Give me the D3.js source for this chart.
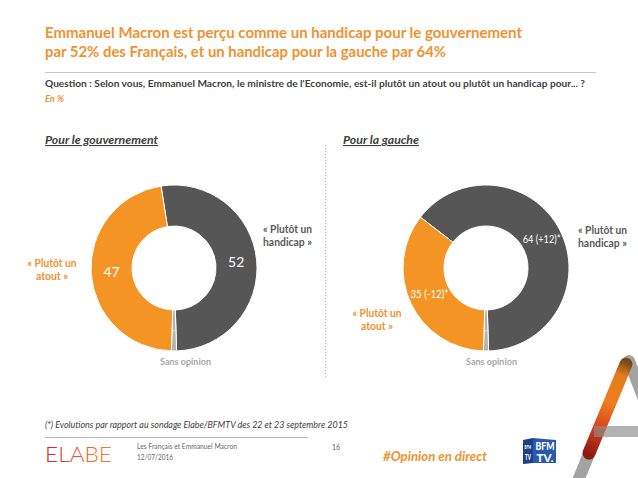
<!DOCTYPE html>
<html>
<head>
<meta charset="utf-8">
<script src="https://cdn.jsdelivr.net/npm/d3@7"></script>
<style>
  body { margin: 0; background: #fff; }
  svg { display: block; font-family: Lato, 'Open Sans', sans-serif; }
</style>
</head>
<body>
<div id="app"></div>
<script>
// data
const categories = ['« Plutôt un handicap »', 'Sans opinion', '« Plutôt un atout »'];
const gouvernement = [52, 1, 47];
const gauche = [64, 1, 35];
const evolGouvernement = ['', '', ''];
const evolGauche = ['(+12)*', '', '(-12)*'];
const panelTitles = ['Pour le gouvernement', 'Pour la gauche'];
const colors = ['#565656', '#b3b3b3', '#f39424'];

const width = 638, height = 478;
const orange = '#ef9230';
const dark = '#404040';

const svg = d3.select('#app').append('svg')
  .attr('width', width).attr('height', height);

// squeeze text to a given width (source font is narrow Calibri)
const fit = (sel, w) => sel.attr('textLength', w).attr('lengthAdjust', 'spacingAndGlyphs');

const label = (x, y, str, size, fill, opts = {}) => {
  const t = svg.append('text')
    .attr('x', x).attr('y', y)
    .attr('font-size', size)
    .attr('fill', fill)
    .attr('font-weight', opts.weight || 400)
    .attr('font-style', opts.italic ? 'italic' : 'normal')
    .attr('text-anchor', opts.anchor || 'start')
    .text(str);
  if (opts.w) fit(t, opts.w);
  return t;
};

// header
label(45, 38, 'Emmanuel Macron est perçu comme un handicap pour le gouvernement', 15.5, orange, { weight: 700, w: 477 });
label(45, 57, 'par 52% des Français, et un handicap pour la gauche par 64%', 15.5, orange, { weight: 700, w: 401 });
svg.append('line')
  .attr('x1', 45).attr('x2', 596).attr('y1', 72.5).attr('y2', 72.5)
  .attr('stroke', '#c6c6c6').attr('stroke-width', 1.2);
label(45, 87, "Question : Selon vous, Emmanuel Macron, le ministre de l'Economie, est-il plutôt un atout ou plutôt un handicap pour... ?", 9.5, dark, { weight: 700, w: 540 });
label(45, 102, 'En %', 10, orange, { italic: true, weight: 700, w: 19 });

// panel titles + separator
const panelX = [45, 343];
const panelW = [113, 76];
panelTitles.forEach((p, i) => {
  label(panelX[i], 144, p, 11, dark, { weight: 700, italic: true, w: panelW[i] })
    .attr('text-decoration', 'underline');
});
svg.append('line')
  .attr('x1', 325.5).attr('x2', 325.5).attr('y1', 145).attr('y2', 377)
  .attr('stroke', '#bdbdbd').attr('stroke-dasharray', '1,2');

// donuts
const arc = d3.arc().innerRadius(42).outerRadius(83);
const pieFor = (vals) => {
  const total = d3.sum(vals);
  // rotate so that the "sans opinion" slice sits at the bottom
  const start = Math.PI - 2 * Math.PI * (vals[0] + vals[1] / 2) / total;
  return d3.pie().sort(null).value(d => d)
    .startAngle(start).endAngle(start + 2 * Math.PI)(vals);
};

const donuts = [
  { vals: gouvernement, evol: evolGouvernement, cx: 174, cy: 268, big: true },
  { vals: gauche, evol: evolGauche, cx: 486, cy: 268, big: false }
];

donuts.forEach(d => {
  const g = svg.append('g').attr('transform', `translate(${d.cx},${d.cy})`);
  const arcs = pieFor(d.vals);
  g.selectAll('path')
    .data(arcs)
    .enter()
    .append('path')
    .attr('d', arc)
    .attr('fill', (a, i) => colors[i])
    .attr('stroke', '#fff')
    .attr('stroke-width', 1);

  g.selectAll('text.val')
    .data(arcs)
    .enter()
    .append('text')
    .attr('class', 'val')
    .attr('transform', a => {
      const c = arc.centroid(a);
      return a.index === 1 ? `translate(${c[0]},${c[1]}) rotate(-90)` : `translate(${c[0]},${c[1]})`;
    })
    .attr('text-anchor', 'middle')
    .attr('dy', '0.35em')
    .attr('fill', '#fff')
    .attr('font-size', a => a.index === 1 ? 5 : (d.big ? 14 : 11))
    .text((a, i) => d.evol[i] ? `${a.data} ${d.evol[i]}` : a.data)
    .each(function (a, i) {
      if (d.evol[i]) fit(d3.select(this), 38);
    });
});

// outside labels
const grayLbl = '#595959';
// gouvernement
label(263, 233, '« Plutôt un', 10.5, grayLbl, { weight: 700, w: 49 });
label(263, 246, 'handicap »', 10.5, grayLbl, { weight: 700, w: 49 });
label(52, 267, '« Plutôt un', 10.5, orange, { weight: 700, anchor: 'middle', w: 49 });
label(52, 280, 'atout »', 10.5, orange, { weight: 700, anchor: 'middle', w: 32 });
label(185.5, 365, categories[1], 10, '#a8a8a8', { weight: 700, anchor: 'middle', w: 51 });
// gauche
label(578, 234, '« Plutôt un', 10.5, grayLbl, { weight: 700, w: 49 });
label(578, 247, 'handicap »', 10.5, grayLbl, { weight: 700, w: 49 });
label(377, 317, '« Plutôt un', 10.5, orange, { weight: 700, anchor: 'middle', w: 49 });
label(377, 330, 'atout »', 10.5, orange, { weight: 700, anchor: 'middle', w: 32 });
label(491.5, 365, categories[1], 10, '#a8a8a8', { weight: 700, anchor: 'middle', w: 51 });

// footer
label(45, 428, '(*) Evolutions par rapport au sondage Elabe/BFMTV des 22 et 23 septembre 2015', 9.5, dark, { italic: true, w: 303 });
svg.append('line')
  .attr('x1', 45).attr('x2', 308).attr('y1', 437.5).attr('y2', 437.5)
  .attr('stroke', '#bdbdbd').attr('stroke-width', 1);

const defs = svg.append('defs');
const elabeGrad = defs.append('linearGradient').attr('id', 'elabe');
[['0%', '#c62a26'], ['45%', '#e0552a'], ['100%', '#ef8a2a']].forEach(s =>
  elabeGrad.append('stop').attr('offset', s[0]).attr('stop-color', s[1]));
label(45, 462, 'ELABE', 21, 'url(#elabe)', { weight: 300, w: 67 });

label(137, 449, 'Les Français et Emmanuel Macron', 7, '#666', { w: 100 });
label(137, 460, '12/07/2016', 7, '#666', { w: 36 });
label(332, 450, '16', 7, '#666');
label(383, 461, '#Opinion en direct', 13, orange, { weight: 700, italic: true, w: 104 });

// BFM TV logo
const bfm = svg.append('g').attr('transform', 'translate(523,437)');
bfm.append('path').attr('d', 'M0,3 L10,1 L10,26 L0,27 Z').attr('fill', '#1d3f86');
bfm.append('path').attr('d', 'M10,1 L33,3 L33,26 L10,26 Z').attr('fill', '#2a5aad');
const bt = (x, y, s, size, w) => fit(bfm.append('text').attr('x', x).attr('y', y)
  .attr('fill', '#fff').attr('font-size', size).attr('font-weight', 900).text(s), w);
bt(12.5, 13, 'BFM', 11, 19);
bt(13.5, 24.5, 'TV.', 11, 17);
bt(1.5, 12, 'BFM', 5.5, 6.5);
bt(2, 23, 'TV', 7, 6);

// "A" decoration
const aGrad = defs.append('linearGradient').attr('id', 'aGrad')
  .attr('gradientUnits', 'userSpaceOnUse')
  .attr('x1', 626).attr('y1', 362).attr('x2', 588).attr('y2', 454);
[['0%', '#7a4a1c'], ['14%', '#e27e1c'], ['45%', '#f07c1e'], ['70%', '#d8461e'], ['100%', '#8f1a12']].forEach(s =>
  aGrad.append('stop').attr('offset', s[0]).attr('stop-color', s[1]));

const deco = svg.append('g').attr('stroke-linecap', 'round');
deco.append('line').attr('x1', 629).attr('y1', 361).attr('x2', 676).attr('y2', 480)
  .attr('stroke', '#a3a3a3').attr('stroke-width', 12);
deco.append('line').attr('x1', 626).attr('y1', 364).attr('x2', 566).attr('y2', 510)
  .attr('stroke', '#a3a3a3').attr('stroke-width', 12);
deco.append('line').attr('x1', 626).attr('y1', 364).attr('x2', 589).attr('y2', 453)
  .attr('stroke', 'url(#aGrad)').attr('stroke-width', 13);
deco.append('line').attr('x1', 594).attr('y1', 431.5).attr('x2', 645).attr('y2', 431.5)
  .attr('stroke', '#8a8a8a').attr('stroke-opacity', 0.65).attr('stroke-width', 11)
  .attr('stroke-linecap', 'butt');
</script>
</body>
</html>
